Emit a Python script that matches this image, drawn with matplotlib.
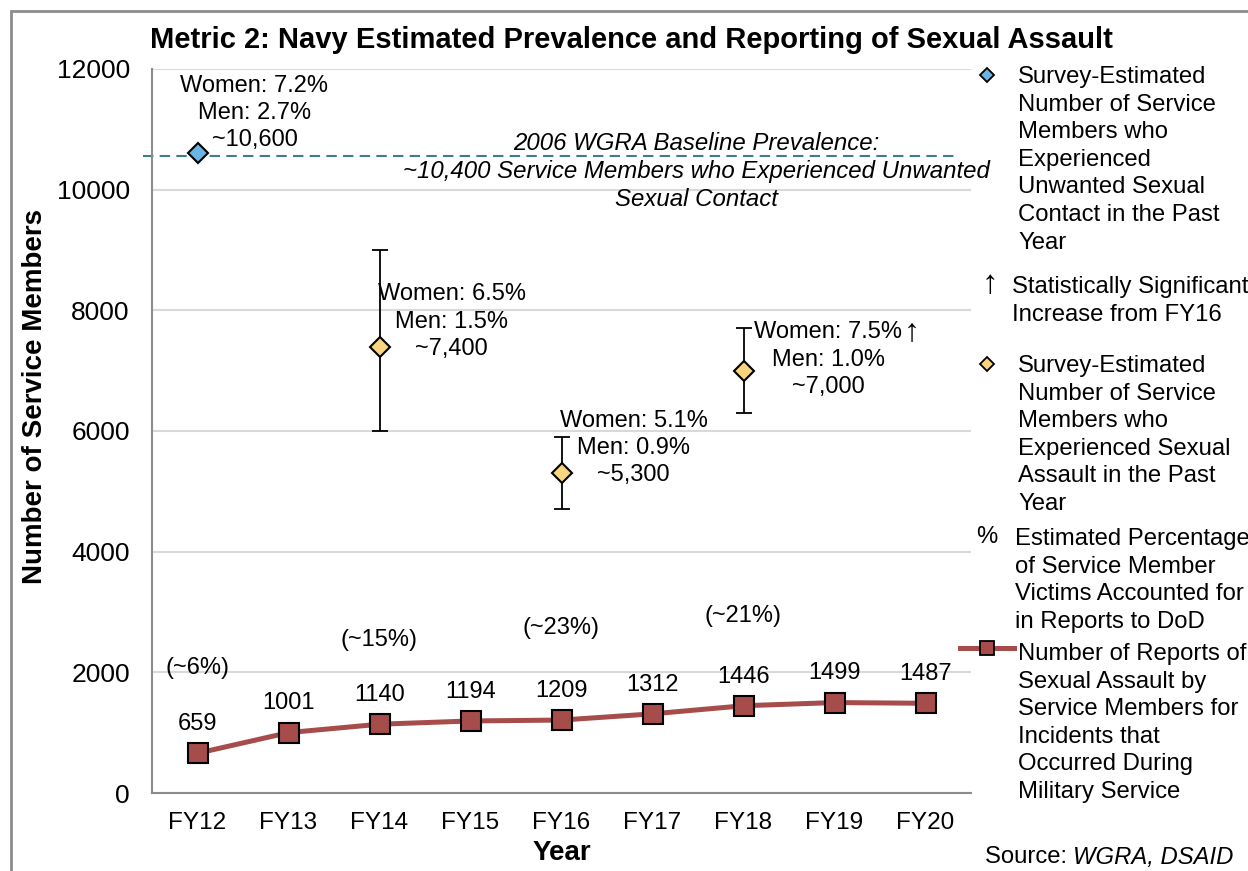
import matplotlib
matplotlib.use("Agg")
import matplotlib.pyplot as plt
from matplotlib.lines import Line2D
from matplotlib.patches import Rectangle

plt.rcParams['font.family'] = ['Liberation Sans', 'DejaVu Sans']

# data
years = ["FY12", "FY13", "FY14", "FY15", "FY16", "FY17", "FY18", "FY19", "FY20"]
reports = [659, 1001, 1140, 1194, 1209, 1312, 1446, 1499, 1487]

usc_x = [0]
usc_y = [10600]
usc_text = ["Women: 7.2%\nMen: 2.7%\n~10,600"]

sa_x = [2, 4, 6]
sa_y = [7400, 5300, 7000]
sa_low = [6000, 4700, 6300]
sa_high = [9000, 5900, 7700]
sa_text = ["Women: 6.5%\nMen: 1.5%\n~7,400",
           "Women: 5.1%\nMen: 0.9%\n~5,300",
           "Women: 7.5%\nMen: 1.0%\n~7,000"]
sa_sig = [False, False, True]

pct_x = [0, 2, 4, 6]
pct_labels = ["(~6%)", "(~15%)", "(~23%)", "(~21%)"]
pct_y = [2070, 2540, 2730, 2930]

baseline = 10550

RED = "#A64D4B"
BLUE = "#6CB4E4"
YELLOW = "#F8D57E"
TEAL = "#3D7E8C"
GRID = "#D9D9D9"
SPINE = "#8C8C8C"

W, H = 1248, 871
fig = plt.figure(figsize=(W / 100, H / 100), dpi=100)


def fx(px):
    return px / W


def fy(py):
    return 1 - py / H


# outer frame
fig.patches.append(Rectangle((fx(11), fy(880)), 1.2, fy(11) - fy(880),
                             transform=fig.transFigure, fill=False,
                             edgecolor=SPINE, linewidth=2, clip_on=False))

ax = fig.add_axes([fx(152), fy(793), (971 - 152) / W, (793 - 69) / H])
ax.set_xlim(-0.5, 8.5)
ax.set_ylim(0, 12000)
ax.set_yticks(range(0, 12001, 2000))
ax.set_xticks(range(len(years)))
ax.set_xticklabels(years)
ax.tick_params(axis='y', length=0, pad=16, labelsize=19)
ax.tick_params(axis='x', length=0, pad=14, labelsize=17.5)
ax.grid(axis='y', color=GRID, linewidth=1.5)
ax.set_axisbelow(True)
for s in ['top', 'right']:
    ax.spines[s].set_visible(False)
for s in ['left', 'bottom']:
    ax.spines[s].set_color(SPINE)
    ax.spines[s].set_linewidth(1.5)

fig.text(fx(35), fy(397), "Number of Service Members", rotation=90, ha='center', va='center',
         fontsize=20, fontweight='bold')
ax.set_xlabel("Year", fontsize=20, fontweight='bold', labelpad=4)
fig.text(fx(631), fy(40), "Metric 2: Navy Estimated Prevalence and Reporting of Sexual Assault",
         ha='center', va='center', fontsize=21, fontweight='bold')

# baseline
ax.plot([-0.6, 8.37], [baseline, baseline], linestyle=(0, (5, 3)), color=TEAL,
        linewidth=1.5, clip_on=False, zorder=2)
ax.text(5.48, 10300, "2006 WGRA Baseline Prevalence:\n~10,400 Service Members who Experienced Unwanted\nSexual Contact",
        ha='center', va='center', fontsize=17.3, style='italic', linespacing=1.3)

# reports line
ax.plot(range(len(years)), reports, color=RED, linewidth=3.6, marker='s', markersize=15,
        markerfacecolor=RED, markeredgecolor='black', markeredgewidth=1.5, zorder=4)
for i, v in enumerate(reports):
    ax.annotate(str(v), (i, v), xytext=(0, 21), textcoords='offset points',
                ha='center', va='center', fontsize=17)

for x, lab, y in zip(pct_x, pct_labels, pct_y):
    ax.text(x, y, lab, ha='center', va='center', fontsize=17)

# survey estimates
ax.errorbar(sa_x, sa_y, yerr=[[a - b for a, b in zip(sa_y, sa_low)],
                              [b - a for a, b in zip(sa_y, sa_high)]],
            fmt='none', ecolor='black', elinewidth=1.3, capsize=6, capthick=1.3, zorder=3)
ax.plot(sa_x, sa_y, linestyle='none', marker='D', markersize=10, markerfacecolor=YELLOW,
        markeredgecolor='black', markeredgewidth=1.5, zorder=5)
ax.plot(usc_x, usc_y, linestyle='none', marker='D', markersize=10, markerfacecolor=BLUE,
        markeredgecolor='black', markeredgewidth=1.5, zorder=5)

for x, y, t in zip(usc_x, usc_y, usc_text):
    ax.annotate(t, (x, y), xytext=(41, 29), textcoords='offset points', ha='center',
                va='center', fontsize=17, linespacing=1.3)
for (x, y, t, off, sig) in zip(sa_x, sa_y, sa_text, [(52, 18), (52, 18), (61, 8)], sa_sig):
    ax.annotate(t, (x, y), xytext=off, textcoords='offset points', ha='center',
                va='center', fontsize=17, linespacing=1.3)
    if sig:
        ax.annotate("\u2191", (x, y), xytext=(off[0] + 60, off[1] + 20),
                    textcoords='offset points', ha='center', va='center', fontsize=23)

# legend, drawn by hand
LFS = 17.2
LS = 1.33
TOP = 9
fig.add_artist(Line2D([fx(987)], [fy(75)], marker='D', markersize=7.5, markerfacecolor=BLUE,
                      markeredgecolor='black', markeredgewidth=1.3, transform=fig.transFigure))
fig.text(fx(1018), fy(75 - TOP), "Survey-Estimated\nNumber of Service\nMembers who\nExperienced\nUnwanted Sexual\nContact in the Past\nYear",
         ha='left', va='top', fontsize=LFS, linespacing=LS)

fig.text(fx(990), fy(284), "\u2191", ha='center', va='center', fontsize=24)
fig.text(fx(1012), fy(285 - TOP), "Statistically Significant\nIncrease from FY16",
         ha='left', va='top', fontsize=LFS, linespacing=LS)

fig.add_artist(Line2D([fx(987)], [fy(364)], marker='D', markersize=7.5, markerfacecolor=YELLOW,
                      markeredgecolor='black', markeredgewidth=1.3, transform=fig.transFigure))
fig.text(fx(1018), fy(364 - TOP), "Survey-Estimated\nNumber of Service\nMembers who\nExperienced Sexual\nAssault in the Past\nYear",
         ha='left', va='top', fontsize=LFS, linespacing=LS)

fig.text(fx(987), fy(537), "%", ha='center', va='center', fontsize=LFS)
fig.text(fx(1015), fy(537 - TOP), "Estimated Percentage\nof Service Member\nVictims Accounted for\nin Reports to DoD",
         ha='left', va='top', fontsize=LFS, linespacing=LS)

fig.add_artist(Line2D([fx(960), fx(1014)], [fy(648), fy(648)], color=RED, linewidth=3.6,
                      transform=fig.transFigure))
fig.add_artist(Line2D([fx(987)], [fy(648)], marker='s', markersize=10, markerfacecolor=RED,
                      markeredgecolor='black', markeredgewidth=1.3, transform=fig.transFigure))
fig.text(fx(1018), fy(652 - TOP), "Number of Reports of\nSexual Assault by\nService Members for\nIncidents that\nOccurred During\nMilitary Service",
         ha='left', va='top', fontsize=LFS, linespacing=LS)

fig.text(fx(985), fy(857), "Source: ", ha='left', va='center', fontsize=LFS)
fig.text(fx(1073), fy(857), "WGRA, DSAID", ha='left', va='center', fontsize=LFS, style='italic')

fig.savefig("out.png", dpi=100)
